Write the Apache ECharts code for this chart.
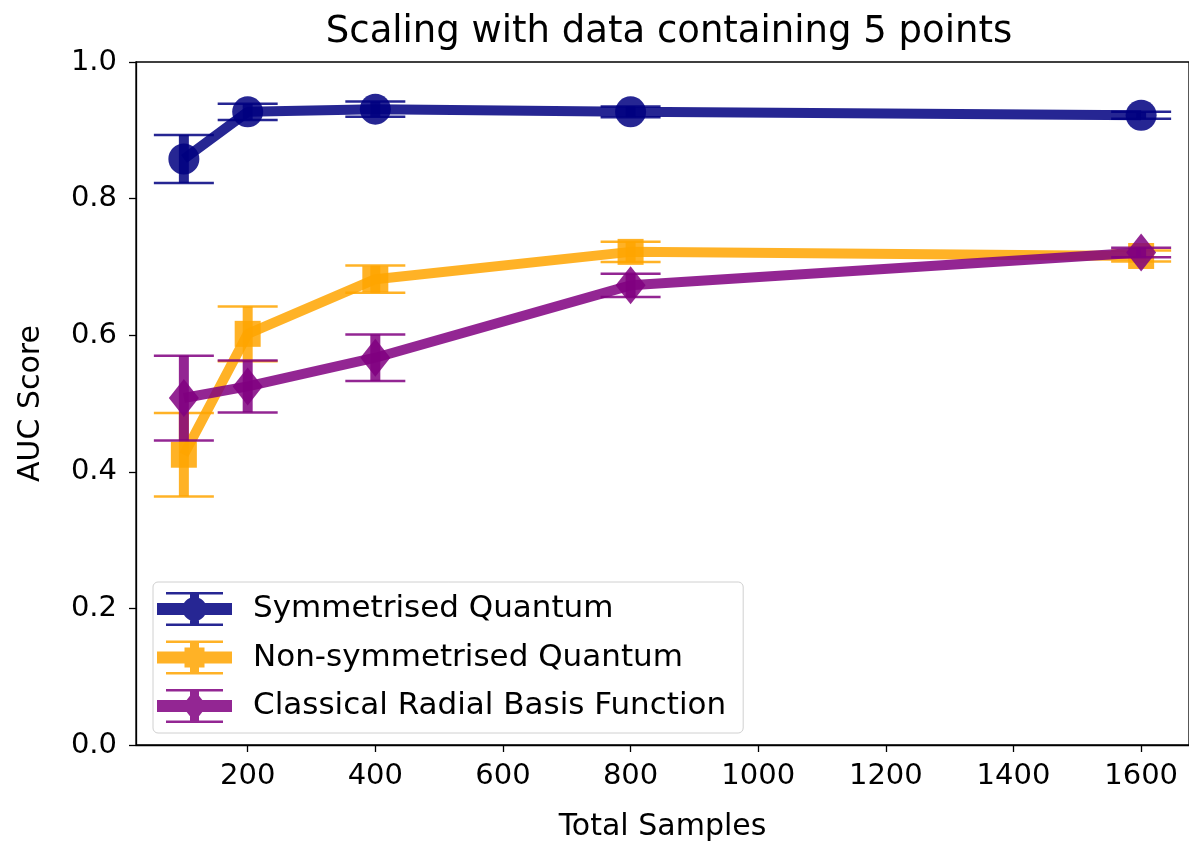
<!DOCTYPE html>
<html>
<head>
<meta charset="utf-8">
<script src="https://cdn.jsdelivr.net/npm/echarts@6/dist/echarts.min.js"></script>
<style>
  html, body { margin: 0; padding: 0; background: #fff; }
  #chart { width: 1189px; height: 847px; }
</style>
</head>
<body>
<div id="chart"></div>
<script>
// ---- data ----
const samples = [100, 200, 400, 800, 1600];
const symMean = [0.858, 0.927, 0.931, 0.927, 0.922];
const symErr  = [0.035, 0.012, 0.011, 0.008, 0.005];
const nonMean = [0.425, 0.602, 0.682, 0.722, 0.716];
const nonErr  = [0.061, 0.040, 0.020, 0.015, 0.008];
const rbfMean = [0.508, 0.525, 0.567, 0.673, 0.721];
const rbfErr  = [0.062, 0.038, 0.034, 0.017, 0.007];
const seriesNames = ['Symmetrised Quantum', 'Non-symmetrised Quantum', 'Classical Radial Basis Function'];
const xTicks = [200, 400, 600, 800, 1000, 1200, 1400, 1600];
const titleText = 'Scaling with data containing 5 points';
const xTitle = 'Total Samples';
const yTitle = 'AUC Score';

// ---- styles ----
const FONT = 'DejaVu Sans';
const colors = ['rgba(0,0,128,0.85)', 'rgba(255,165,0,0.85)', 'rgba(128,0,128,0.85)'];
const symbols = ['circle', 'rect', 'diamond'];
const symbolSizes = [31, 26, [30, 38]];

const base = 'M0 11H75V23H0Z M9 0H66V2.5H9Z M9 31.5H66V34H9Z M33 0H42V34H33Z';
const legendIcons = [
  'path://' + base + ' M25.5 17A12 12 0 1 1 49.5 17A12 12 0 1 1 25.5 17Z',
  'path://' + base + ' M27.5 7H47.5V27H27.5Z',
  'path://' + base + ' M37.5 1L50 17L37.5 33L25 17Z'
];

function pairs(xs, ys) { return xs.map((x, i) => [x, ys[i]]); }
function errData(xs, ys, es) { return xs.map((x, i) => [x, ys[i] - es[i], ys[i] + es[i]]); }

function makeErrSeries(idx, means, errs) {
  const color = colors[idx];
  return {
    type: 'custom',
    name: seriesNames[idx] + ' err',
    z: 2 + idx * 2,
    data: errData(samples, means, errs),
    encode: { x: 0, y: [1, 2] },
    silent: true,
    renderItem: function (params, api) {
      const x = api.value(0);
      const pLo = api.coord([x, api.value(1)]);
      const pHi = api.coord([x, api.value(2)]);
      const half = 30;
      return {
        type: 'group',
        children: [
          { type: 'line', shape: { x1: pHi[0], y1: pHi[1], x2: pLo[0], y2: pLo[1] },
            style: { stroke: color, lineWidth: 10 } },
          { type: 'line', shape: { x1: pHi[0] - half, y1: pHi[1], x2: pHi[0] + half, y2: pHi[1] },
            style: { stroke: color, lineWidth: 2.5 } },
          { type: 'line', shape: { x1: pLo[0] - half, y1: pLo[1], x2: pLo[0] + half, y2: pLo[1] },
            style: { stroke: color, lineWidth: 2.5 } }
        ]
      };
    }
  };
}

function makeLineSeries(idx, means) {
  return {
    type: 'line',
    name: seriesNames[idx],
    z: 3 + idx * 2,
    data: pairs(samples, means),
    symbol: symbols[idx],
    symbolSize: symbolSizes[idx],
    showAllSymbol: true,
    lineStyle: { color: colors[idx], width: 10 },
    itemStyle: { color: colors[idx], borderWidth: 0 },
    emphasis: { disabled: true },
    animation: false
  };
}

const chart = echarts.init(document.getElementById('chart'), null, { renderer: 'canvas' });
chart.setOption({
  animation: false,
  backgroundColor: '#fff',
  title: {
    text: titleText,
    left: 664,
    textAlign: 'center',
    top: 9,
    textStyle: { fontFamily: FONT, fontSize: 37, fontWeight: 'normal', color: '#000' }
  },
  grid: {
    left: 136, right: -4, top: 62, bottom: 98,
    show: true, borderColor: '#000', borderWidth: 1.3, backgroundColor: 'transparent'
  },
  legend: {
    orient: 'vertical',
    left: 153, top: 582,
    padding: [10, 17, 10, 4],
    itemWidth: 75, itemHeight: 34, itemGap: 14.5,
    backgroundColor: 'rgba(255,255,255,0.8)',
    borderColor: '#d0d0d0', borderWidth: 1, borderRadius: 5,
    textStyle: { fontFamily: FONT, fontSize: 31, color: '#000', padding: [0, 0, 0, 16] },
    selectedMode: false,
    data: seriesNames.map((n, i) => ({ name: n, icon: legendIcons[i], itemStyle: { color: colors[i] } }))
  },
  xAxis: {
    type: 'value',
    min: 25, max: 1675,
    name: xTitle,
    nameLocation: 'middle',
    nameGap: 67,
    nameTextStyle: { fontFamily: FONT, fontSize: 30, color: '#000' },
    axisLine: { show: true, onZero: false, lineStyle: { color: '#000', width: 1.3 } },
    axisTick: { show: true, customValues: xTicks, length: 7, lineStyle: { color: '#000', width: 1.3 } },
    axisLabel: { customValues: xTicks, margin: 17, fontFamily: FONT, fontSize: 29, color: '#000',
                 formatter: v => String(v) },
    splitLine: { show: false }
  },
  yAxis: {
    type: 'value',
    min: 0, max: 1, interval: 0.2,
    name: yTitle,
    nameLocation: 'middle',
    nameGap: 90,
    nameRotate: 90,
    nameTextStyle: { fontFamily: FONT, fontSize: 30, color: '#000' },
    axisLine: { show: true, onZero: false, lineStyle: { color: '#000', width: 1.3 } },
    axisTick: { show: true, length: 7, lineStyle: { color: '#000', width: 1.3 } },
    axisLabel: { margin: 19, fontFamily: FONT, fontSize: 29, color: '#000', formatter: v => v.toFixed(1) },
    splitLine: { show: false }
  },
  series: [
    makeErrSeries(0, symMean, symErr),
    makeLineSeries(0, symMean),
    makeErrSeries(1, nonMean, nonErr),
    makeLineSeries(1, nonMean),
    makeErrSeries(2, rbfMean, rbfErr),
    makeLineSeries(2, rbfMean)
  ]
});
</script>
</body>
</html>
